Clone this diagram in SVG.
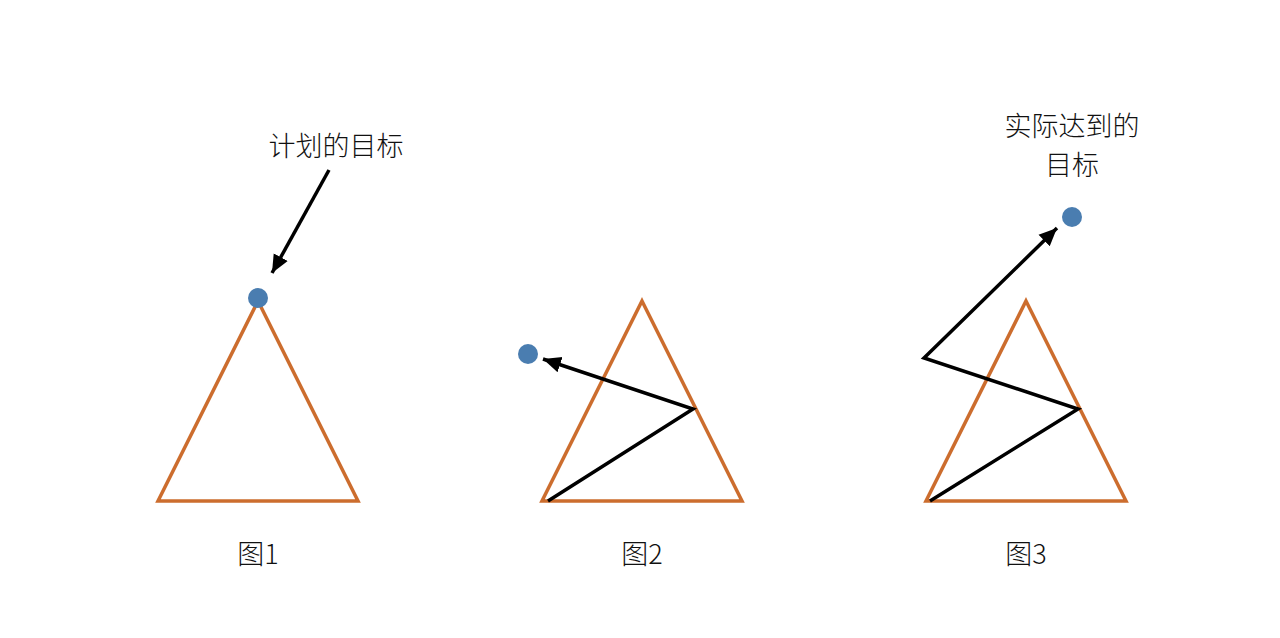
<svg xmlns="http://www.w3.org/2000/svg" width="1280" height="638" viewBox="0 0 1280 638">
<style>
.tri{fill:none;stroke:#CC6D2E;stroke-width:3.5;stroke-linejoin:miter}
.dot{fill:#4A7DB0}
.ln{fill:none;stroke:#000;stroke-width:3.5;stroke-linejoin:miter}
text{font-family:"Noto Sans CJK SC","Liberation Sans",sans-serif;font-size:27px;font-weight:300;fill:#111;text-anchor:middle}
</style>
<defs>
<marker id="ah" markerUnits="userSpaceOnUse" markerWidth="20" markerHeight="20" viewBox="0 0 20 20" refX="18" refY="10" orient="auto">
<path d="M0,2 L18,10 L0,18 Z" fill="#000"/>
</marker>
</defs>
<rect width="1280" height="638" fill="#fff"/>
<g id="fig1">
<polygon class="tri" points="258,301 358,501 158,501"/>
<circle class="dot" cx="258" cy="298" r="10"/>
<text x="336" y="156">计划的目标</text>
<text x="258" y="564">图1</text>
</g>
<g id="fig2">
<polygon class="tri" points="642,301 742,501 542,501"/>
<circle class="dot" cx="528" cy="354" r="10"/>
<text x="642" y="564">图2</text>
</g>
<g id="fig3">
<polygon class="tri" points="1026,301 1126,501 926,501"/>
<circle class="dot" cx="1072" cy="217" r="10"/>
<text x="1072" y="136">实际达到的</text>
<text x="1072" y="175">目标</text>
<text x="1026" y="564">图3</text>
</g>
<g id="connectors">
<path class="ln" d="M329,170 L272,273" marker-end="url(#ah)"/>
<path class="ln" d="M548,501 L693,409 L543,359" marker-end="url(#ah)"/>
<path class="ln" d="M930,501 L1078,409 L924,358 L1057,228" marker-end="url(#ah)"/>
</g>
</svg>
